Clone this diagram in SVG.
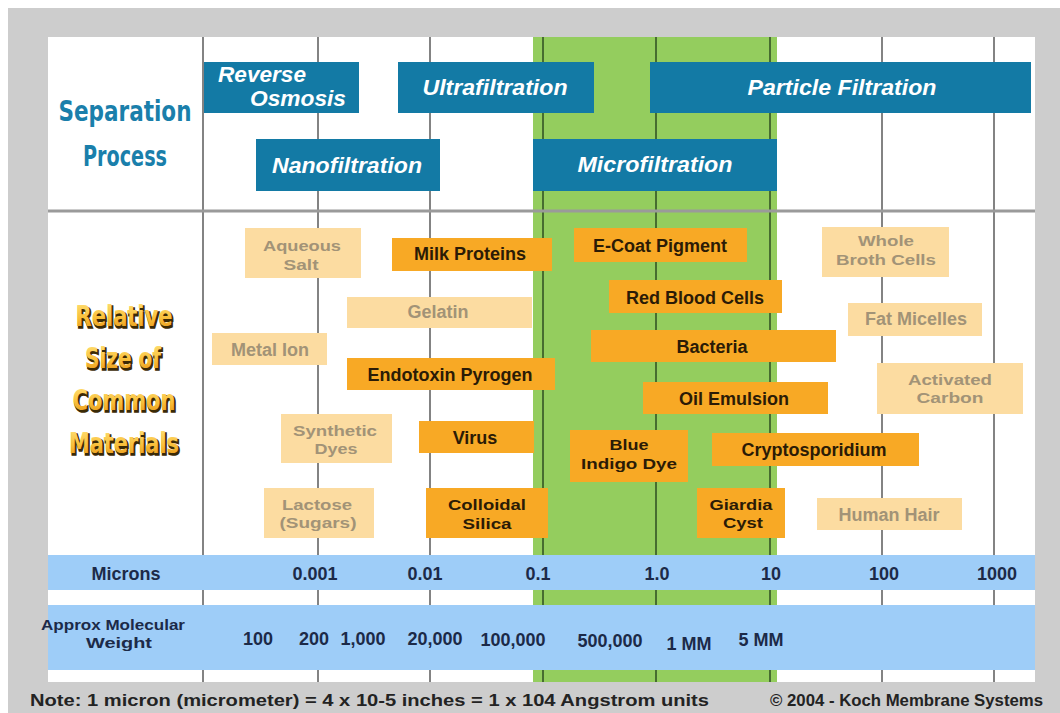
<svg xmlns="http://www.w3.org/2000/svg" width="1060" height="713" viewBox="0 0 1060 713">
  <defs>
    <style>
      .proc { fill: #137aa5; }
      .proc-t { font-family: "Liberation Sans", Arial, sans-serif; font-weight: bold; font-style: italic; font-size: 22px; fill: #ffffff; text-anchor: middle; }
      .mat-s { fill: #f8a925; }
      .mat-p { fill: #fcdca1; }
      .mt { font-family: "Liberation Sans", Arial, sans-serif; font-weight: bold; font-size: 18px; text-anchor: middle; }
      .mt2 { font-size: 15.5px; }
      .mt-s { fill: #2b1b06; }
      .mt-p { fill: #a29377; }
      .grid line { stroke: #5a5a5a; stroke-width: 1.5; }
      .grid line.in { stroke: #2e4d22; }
      .band { fill: #9ecdf8; }
      .bt { font-family: "Liberation Sans", Arial, sans-serif; font-weight: bold; font-size: 18px; fill: #1c2a48; text-anchor: middle; }
      .head { font-family: "DejaVu Sans Condensed", "Liberation Sans Narrow", "Liberation Sans", sans-serif; font-weight: bold; font-size: 28px; text-anchor: middle; }
      .note { font-family: "Liberation Sans", Arial, sans-serif; font-weight: bold; font-size: 17px; fill: #232323; }
    </style>
    <linearGradient id="gold" x1="0" y1="0" x2="0" y2="1">
      <stop offset="0" stop-color="#ffe27a"/>
      <stop offset="0.55" stop-color="#f9bf3a"/>
      <stop offset="1" stop-color="#e38f12"/>
    </linearGradient>
  </defs>

  <!-- page background and chart panel -->
  <rect width="1060" height="713" fill="#ffffff"/>
  <rect x="8" y="8" width="1052" height="705" fill="#cdcdcd"/>
  <rect x="48" y="37" width="987" height="645" fill="#ffffff"/>
  <!-- microfiltration range highlight -->
  <rect x="533" y="37" width="244" height="645" fill="#94cd5e"/>

  <!-- decade grid lines -->
  <g id="connectors" class="grid">
    <line x1="203" y1="37" x2="203" y2="682"/>
    <line x1="318" y1="37" x2="318" y2="682"/>
    <line x1="430" y1="37" x2="430" y2="682"/>
    <line class="in" x1="543" y1="37" x2="543" y2="682"/>
    <line class="in" x1="656" y1="37" x2="656" y2="682"/>
    <line class="in" x1="770" y1="37" x2="770" y2="682"/>
    <line x1="882" y1="37" x2="882" y2="682"/>
    <line x1="994" y1="37" x2="994" y2="682"/>
    <line x1="48" y1="211" x2="1035" y2="211" style="stroke:#9a9a9a;stroke-width:3"/>
  </g>

  <!-- row headings -->
  <g id="heading-separation">
    <text class="head" x="125" y="121" fill="#1a7fab" textLength="133" lengthAdjust="spacingAndGlyphs">Separation</text>
    <text class="head" x="125" y="166" fill="#1a7fab" textLength="84" lengthAdjust="spacingAndGlyphs">Process</text>
  </g>
  <g id="heading-materials">
    <g fill="#3b2a05" stroke="#3b2a05" stroke-width="1.6" transform="translate(1.2,1.6)">
      <text class="head" x="124" y="326" textLength="97" lengthAdjust="spacingAndGlyphs">Relative</text>
      <text class="head" x="123" y="368" textLength="76" lengthAdjust="spacingAndGlyphs">Size of</text>
      <text class="head" x="124" y="410" textLength="103" lengthAdjust="spacingAndGlyphs">Common</text>
      <text class="head" x="124" y="453" textLength="110" lengthAdjust="spacingAndGlyphs">Materials</text>
    </g>
    <g fill="url(#gold)">
      <text class="head" x="124" y="326" textLength="97" lengthAdjust="spacingAndGlyphs">Relative</text>
      <text class="head" x="123" y="368" textLength="76" lengthAdjust="spacingAndGlyphs">Size of</text>
      <text class="head" x="124" y="410" textLength="103" lengthAdjust="spacingAndGlyphs">Common</text>
      <text class="head" x="124" y="453" textLength="110" lengthAdjust="spacingAndGlyphs">Materials</text>
    </g>
  </g>

  <!-- separation processes -->
  <g id="reverse-osmosis">
    <rect class="proc" x="204" y="62" width="155" height="51"/>
    <text class="proc-t" x="262" y="82" textLength="88" lengthAdjust="spacingAndGlyphs">Reverse</text>
    <text class="proc-t" x="298" y="106" textLength="96" lengthAdjust="spacingAndGlyphs">Osmosis</text>
  </g>
  <g id="ultrafiltration">
    <rect class="proc" x="398" y="62" width="196" height="51"/>
    <text class="proc-t" x="495" y="95" textLength="145" lengthAdjust="spacingAndGlyphs">Ultrafiltration</text>
  </g>
  <g id="particle-filtration">
    <rect class="proc" x="650" y="62" width="381" height="51"/>
    <text class="proc-t" x="842" y="95" textLength="189" lengthAdjust="spacingAndGlyphs">Particle Filtration</text>
  </g>
  <g id="nanofiltration">
    <rect class="proc" x="256" y="139" width="184" height="52"/>
    <text class="proc-t" x="347" y="173" textLength="150" lengthAdjust="spacingAndGlyphs">Nanofiltration</text>
  </g>
  <g id="microfiltration">
    <rect class="proc" x="533" y="139" width="244" height="52"/>
    <text class="proc-t" x="655" y="172" textLength="155" lengthAdjust="spacingAndGlyphs">Microfiltration</text>
  </g>

  <!-- materials, pale = outside membrane range, strong = within -->
  <g id="aqueous-salt">
    <rect class="mat-p" x="245" y="228" width="116" height="50"/>
    <text class="mt mt2 mt-p" x="302" y="251" textLength="78" lengthAdjust="spacingAndGlyphs">Aqueous</text>
    <text class="mt mt2 mt-p" x="301" y="270" textLength="35" lengthAdjust="spacingAndGlyphs">Salt</text>
  </g>
  <g id="milk-proteins">
    <rect class="mat-s" x="392" y="238" width="160" height="33"/>
    <text class="mt mt-s" x="470" y="260">Milk Proteins</text>
  </g>
  <g id="gelatin">
    <rect class="mat-p" x="347" y="297" width="185" height="31"/>
    <text class="mt mt-p" x="438" y="318">Gelatin</text>
  </g>
  <g id="metal-ion">
    <rect class="mat-p" x="212" y="333" width="115" height="32"/>
    <text class="mt mt-p" x="270" y="356">Metal Ion</text>
  </g>
  <g id="endotoxin-pyrogen">
    <rect class="mat-s" x="347" y="358" width="208" height="32"/>
    <text class="mt mt-s" x="450" y="381">Endotoxin Pyrogen</text>
  </g>
  <g id="synthetic-dyes">
    <rect class="mat-p" x="281" y="414" width="111" height="49"/>
    <text class="mt mt2 mt-p" x="335" y="436" textLength="84" lengthAdjust="spacingAndGlyphs">Synthetic</text>
    <text class="mt mt2 mt-p" x="336" y="454" textLength="43" lengthAdjust="spacingAndGlyphs">Dyes</text>
  </g>
  <g id="virus">
    <rect class="mat-s" x="419" y="421" width="115" height="32"/>
    <text class="mt mt-s" x="475" y="444">Virus</text>
  </g>
  <g id="lactose">
    <rect class="mat-p" x="264" y="488" width="110" height="50"/>
    <text class="mt mt2 mt-p" x="317" y="510" textLength="70" lengthAdjust="spacingAndGlyphs">Lactose</text>
    <text class="mt mt2 mt-p" x="318" y="528" textLength="77" lengthAdjust="spacingAndGlyphs">(Sugars)</text>
  </g>
  <g id="colloidal-silica">
    <rect class="mat-s" x="426" y="488" width="122" height="50"/>
    <text class="mt mt2 mt-s" x="487" y="510" textLength="78" lengthAdjust="spacingAndGlyphs">Colloidal</text>
    <text class="mt mt2 mt-s" x="487" y="529" textLength="49" lengthAdjust="spacingAndGlyphs">Silica</text>
  </g>
  <g id="e-coat-pigment">
    <rect class="mat-s" x="574" y="228" width="173" height="34"/>
    <text class="mt mt-s" x="660" y="252">E-Coat Pigment</text>
  </g>
  <g id="red-blood-cells">
    <rect class="mat-s" x="609" y="280" width="173" height="33"/>
    <text class="mt mt-s" x="695" y="304">Red Blood Cells</text>
  </g>
  <g id="bacteria">
    <rect class="mat-s" x="591" y="330" width="245" height="32"/>
    <text class="mt mt-s" x="712" y="353">Bacteria</text>
  </g>
  <g id="oil-emulsion">
    <rect class="mat-s" x="643" y="382" width="185" height="32"/>
    <text class="mt mt-s" x="734" y="405">Oil Emulsion</text>
  </g>
  <g id="blue-indigo-dye">
    <rect class="mat-s" x="570" y="430" width="118" height="52"/>
    <text class="mt mt2 mt-s" x="629" y="450" textLength="39" lengthAdjust="spacingAndGlyphs">Blue</text>
    <text class="mt mt2 mt-s" x="629" y="469" textLength="96" lengthAdjust="spacingAndGlyphs">Indigo Dye</text>
  </g>
  <g id="cryptosporidium">
    <rect class="mat-s" x="712" y="433" width="207" height="33"/>
    <text class="mt mt-s" x="814" y="456">Cryptosporidium</text>
  </g>
  <g id="giardia-cyst">
    <rect class="mat-s" x="697" y="488" width="88" height="50"/>
    <text class="mt mt2 mt-s" x="741" y="510" textLength="63" lengthAdjust="spacingAndGlyphs">Giardia</text>
    <text class="mt mt2 mt-s" x="743" y="528" textLength="40" lengthAdjust="spacingAndGlyphs">Cyst</text>
  </g>
  <g id="whole-broth-cells">
    <rect class="mat-p" x="822" y="227" width="127" height="50"/>
    <text class="mt mt2 mt-p" x="886" y="246" textLength="56" lengthAdjust="spacingAndGlyphs">Whole</text>
    <text class="mt mt2 mt-p" x="886" y="265" textLength="100" lengthAdjust="spacingAndGlyphs">Broth Cells</text>
  </g>
  <g id="fat-micelles">
    <rect class="mat-p" x="848" y="303" width="134" height="33"/>
    <text class="mt mt-p" x="916" y="325">Fat Micelles</text>
  </g>
  <g id="activated-carbon">
    <rect class="mat-p" x="877" y="363" width="146" height="51"/>
    <text class="mt mt2 mt-p" x="950" y="385" textLength="84" lengthAdjust="spacingAndGlyphs">Activated</text>
    <text class="mt mt2 mt-p" x="950" y="403" textLength="67" lengthAdjust="spacingAndGlyphs">Carbon</text>
  </g>
  <g id="human-hair">
    <rect class="mat-p" x="817" y="498" width="145" height="32"/>
    <text class="mt mt-p" x="889" y="521">Human Hair</text>
  </g>

  <!-- scales -->
  <g id="micron-scale">
    <rect class="band" x="48" y="555" width="987" height="35"/>
    <text class="bt" x="126" y="580">Microns</text>
    <text class="bt" x="315" y="580">0.001</text>
    <text class="bt" x="425" y="580">0.01</text>
    <text class="bt" x="538" y="580">0.1</text>
    <text class="bt" x="657" y="580">1.0</text>
    <text class="bt" x="771" y="580">10</text>
    <text class="bt" x="884" y="580">100</text>
    <text class="bt" x="997" y="580">1000</text>
  </g>
  <g id="molecular-weight-scale">
    <rect class="band" x="48" y="605" width="987" height="65"/>
    <text class="bt" x="113" y="630" style="font-size:15px" textLength="144" lengthAdjust="spacingAndGlyphs">Approx Molecular</text>
    <text class="bt" x="119" y="648" style="font-size:15px" textLength="66" lengthAdjust="spacingAndGlyphs">Weight</text>
    <text class="bt" x="258" y="645">100</text>
    <text class="bt" x="314" y="645">200</text>
    <text class="bt" x="363" y="645">1,000</text>
    <text class="bt" x="435" y="645">20,000</text>
    <text class="bt" x="513" y="646">100,000</text>
    <text class="bt" x="610" y="647">500,000</text>
    <text class="bt" x="689" y="650">1 MM</text>
    <text class="bt" x="761" y="646">5 MM</text>
  </g>

  <!-- footnotes -->
  <g id="footnotes">
    <text class="note" x="30" y="706" textLength="679" lengthAdjust="spacingAndGlyphs">Note: 1 micron (micrometer) = 4 x 10-5 inches = 1 x 104 Angstrom units</text>
    <text class="note" x="770" y="706" style="font-size:16px" textLength="273" lengthAdjust="spacingAndGlyphs">© 2004 - Koch Membrane Systems</text>
  </g>
</svg>
